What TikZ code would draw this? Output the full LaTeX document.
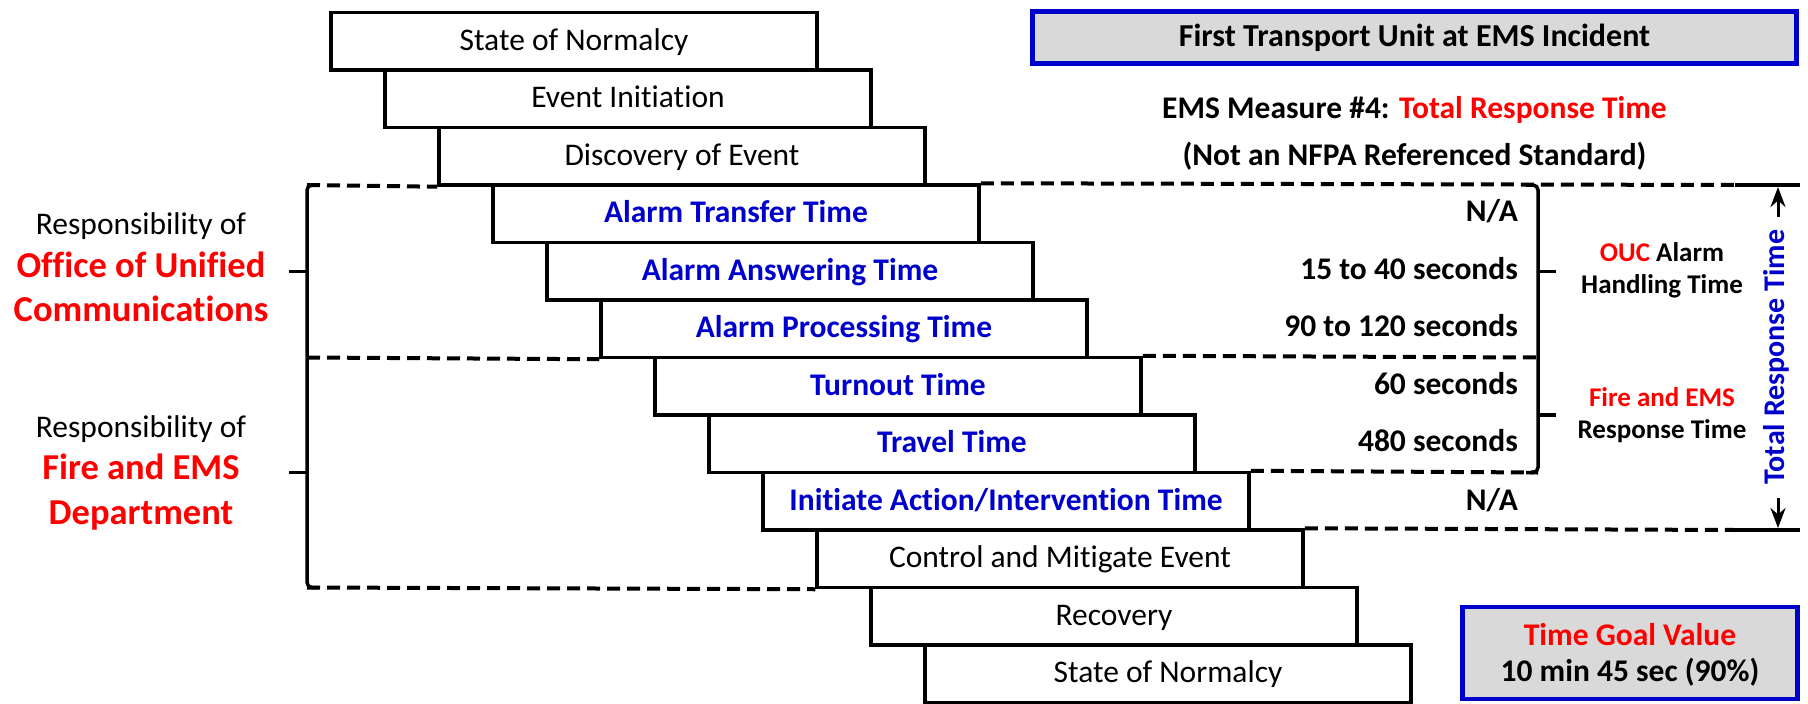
\documentclass[tikz,border=0pt]{standalone}
\usepackage{fontspec}
\setmainfont{Carlito}[RawFeature=-liga]
\usetikzlibrary{arrows.meta}
\definecolor{tblue}{RGB}{0,0,204}
\definecolor{tred}{RGB}{255,0,0}
\definecolor{tgray}{RGB}{217,217,217}
\begin{document}
\begin{tikzpicture}[x=1pt,y=-1pt,
  stage/.style={draw=black, line width=3.5pt, minimum width=486pt, minimum height=57.5pt, inner sep=0pt,
    text height=24pt, text depth=6pt, font=\fontsize{31.5}{38}\selectfont},
  stagetime/.style={stage, text=tblue, font=\bfseries\fontsize{31.5}{38}\selectfont},
  dashln/.style={line width=4pt, dash pattern=on 13pt off 7pt},
  brk/.style={line width=3.5pt, rounded corners=5pt},
  solidln/.style={line width=3.5pt},
  val/.style={anchor=base east, inner sep=0pt, font=\bfseries\fontsize{31.5}{38}\selectfont},
  resp/.style={anchor=base, inner sep=0pt, font=\fontsize{31.5}{38}\selectfont},
  respname/.style={anchor=base, inner sep=0pt, text=tred, font=\bfseries\fontsize{36.5}{44}\selectfont},
  sidelbl/.style={anchor=base, inner sep=0pt, font=\bfseries\fontsize{27}{32}\selectfont},
  toptext/.style={anchor=base, inner sep=0pt, font=\bfseries\fontsize{31.5}{38}\selectfont},
  bluebox/.style={draw=tblue, fill=tgray, line width=4.5pt, inner sep=0pt},
  dblarrow/.style={line width=3pt, -{Stealth[length=20pt,width=15pt]}}
]
\useasboundingbox (0,0) rectangle (1808,704);

% stages
\node[stage] (b1) at (574,41.25) {State of Normalcy};
\node[stage] (b2) at (628,98.75) {Event Initiation};
\node[stage] (b3) at (682,156.25) {Discovery of Event};
\node[stagetime] (b4) at (736,213.75) {Alarm Transfer Time};
\node[stagetime] (b5) at (790,271.25) {Alarm Answering Time};
\node[stagetime] (b6) at (844,328.75) {Alarm Processing Time};
\node[stagetime] (b7) at (898,386.25) {Turnout Time};
\node[stagetime] (b8) at (952,443.75) {Travel Time};
\node[stagetime] (b9) at (1006,501.25) {Initiate Action/Intervention Time};
\node[stage] (b10) at (1060,558.75) {Control and Mitigate Event};
\node[stage] (b11) at (1114,616.25) {Recovery};
\node[stage] (b12) at (1168,673.75) {State of Normalcy};

% bracket coordinates
\coordinate (L1) at (307,185);
\coordinate (L2) at (307,357.5);
\coordinate (L3) at (307,587.5);
\coordinate (R1) at (1538,185);
\coordinate (R2) at (1538,357.5);
\coordinate (R3) at (1538,472.5);
\coordinate (E1) at (1735,185);
\coordinate (E2) at (1735,530);
\coordinate (F1) at (1800,185);
\coordinate (F2) at (1800,530);

% dashed lines
\draw[dashln] (L1) -- (b3.south west);
\draw[dashln] (b4.north east) -- (E1);
\draw[dashln] (L2) -- (b6.south west);
\draw[dashln] (b7.north east) -- (R2);
\draw[dashln] (b9.north east) -- (R3);
\draw[dashln] (b10.north east) -- (E2);
\draw[dashln] (L3) -- (b10.south west);

% left brackets
\draw[brk] (319,185) -- (L1) -- (L2);
\draw[brk] (L2) -- (L3) -- (319,587.5);
\draw[solidln] (L2) -- (317,357.5);
\draw[solidln] (307,271.25) -- (289,271.25);
\draw[solidln] (307,472.5) -- (289,472.5);

% right brackets
\draw[brk] (1526,185) -- (R1) -- (R3) -- (1526,472.5);
\draw[solidln] (1538,271.25) -- (1556,271.25);
\draw[solidln] (1538,415) -- (1556,415);

% total response time bars and arrows
\draw[solidln] (E1) -- (F1);
\draw[solidln] (E2) -- (F2);
\coordinate (A1) at (1778,217);
\coordinate (A2) at (1778,498);
\draw[dblarrow] (A1) -- (1778,187);
\draw[dblarrow] (A2) -- (1778,528);
\node[rotate=90, inner sep=0pt, text=tblue, font=\bfseries\fontsize{30}{36}\selectfont] (trt) at (1776,357) {Total Response Time};

% left labels
\node[resp] (r1) at (141,234) {Responsibility of};
\node[respname] (r1a) at (141,277) {Office of Unified};
\node[respname] (r1b) at (141,321.5) {Communications};
\node[resp] (r2) at (141,437) {Responsibility of};
\node[respname] (r2a) at (141,479.5) {Fire and EMS};
\node[respname] (r2b) at (141,524) {Department};

% values
\node[val] (v4) at (1518,221.5) {N/A};
\node[val] (v5) at (1518,279) {15 to 40 seconds};
\node[val] (v6) at (1518,336.5) {90 to 120 seconds};
\node[val] (v7) at (1518,394) {60 seconds};
\node[val] (v8) at (1518,451.5) {480 seconds};
\node[val] (v9) at (1518,510.5) {N/A};

% side labels
\node[sidelbl] (s1) at (1662,261) {\textcolor{tred}{OUC} Alarm};
\node[sidelbl] (s2) at (1662,293) {Handling Time};
\node[sidelbl, text=tred] (s3) at (1662,406) {Fire and EMS};
\node[sidelbl] (s4) at (1662,438) {Response Time};

% header
\node[bluebox, minimum width=764pt, minimum height=52pt, text height=24pt, text depth=6pt,
      font=\bfseries\fontsize{32}{38}\selectfont] (hdr) at (1414.5,37.5) {First Transport Unit at EMS Incident};
\node[toptext] (m1) at (1414.5,118.5) {EMS Measure \#4: \textcolor{tred}{Total Response Time}};
\node[toptext] (m2) at (1414.5,165) {(Not an NFPA Referenced Standard)};

% goal box
\node[bluebox, minimum width=335pt, minimum height=92pt] (goal) at (1630,653) {};
\node[toptext, text=tred] (g1) at (1630,645) {Time Goal Value};
\node[toptext] (g2) at (1630,681.5) {10 min 45 sec (90\%)};
\end{tikzpicture}
\end{document}
